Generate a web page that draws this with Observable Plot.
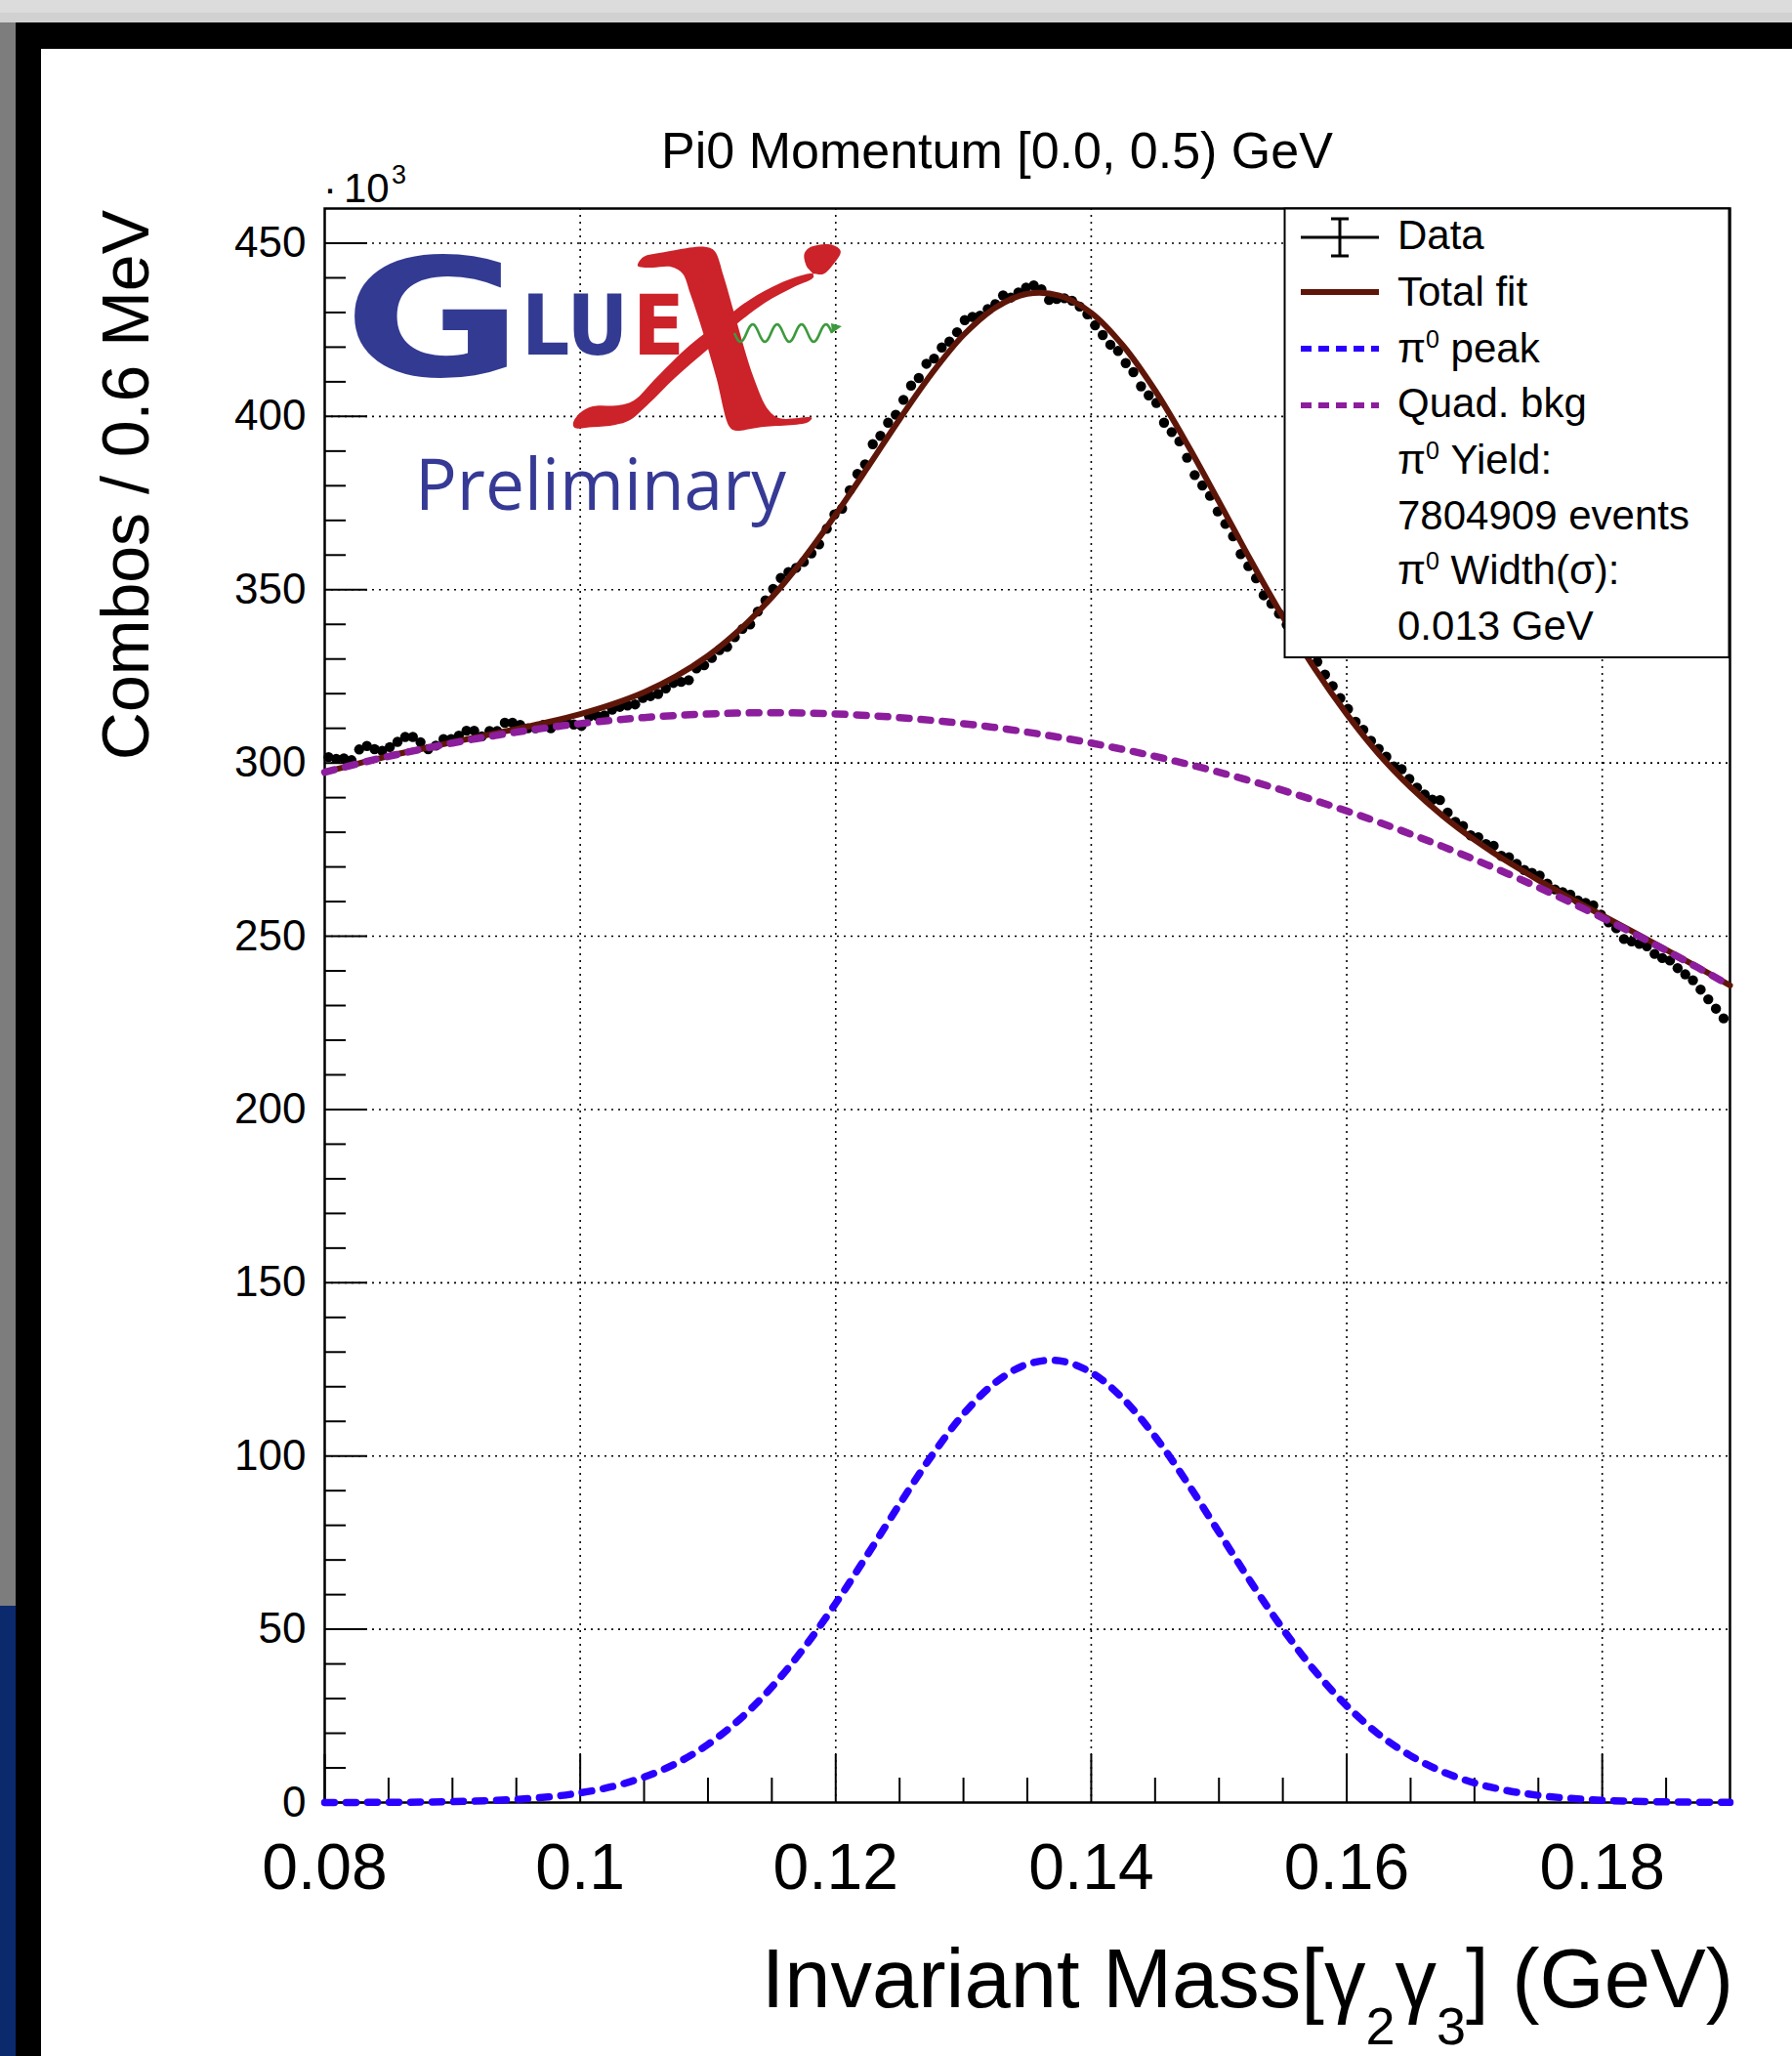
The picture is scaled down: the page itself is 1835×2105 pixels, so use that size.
<!DOCTYPE html>
<html><head><meta charset="utf-8">
<script src="https://cdn.jsdelivr.net/npm/d3@7"></script>
<script src="https://cdn.jsdelivr.net/npm/@observablehq/plot@0.6"></script>
<style>
body{margin:0;width:1835px;height:2105px;position:relative;overflow:hidden;background:#d9d9d9;}
.bg{position:absolute;}
#chart{position:absolute;left:0;top:0;width:1835px;height:2105px;}
</style></head>
<body>
<div class="bg" style="left:0;top:0;width:1835px;height:13px;background:#dcdcdc"></div>
<div class="bg" style="left:0;top:13px;width:1835px;height:10px;background:#d1d1d1"></div>
<div class="bg" style="left:0;top:23px;width:16px;height:1621px;background:#7d7d7d"></div>
<div class="bg" style="left:0;top:1644px;width:16px;height:461px;background:#0b2a6e"></div>
<div class="bg" style="left:16px;top:23px;width:1819px;height:2082px;background:#000"></div>
<div class="bg" style="left:42px;top:50px;width:1793px;height:2055px;background:#fff"></div>
<div id="chart"></div>
<script>
// ---------------- data (counts in units of 10^3 per 0.6 MeV bin) ----------------
const binStart = 0.08;
const binWidth = 0.0006;
const counts = [
301.7,301.2,301.3,300.8,303.9,304.9,304.0,303.5,304.6,306.1,
307.5,307.5,306.0,304.0,305.0,306.9,306.9,307.9,309.3,309.3,
307.7,309.2,309.2,311.6,311.6,311.0,310.0,310.0,311.0,310.0,
311.0,312.1,311.1,310.7,313.4,313.6,313.7,315.4,316.2,316.6,
316.9,318.8,319.3,319.9,321.5,323.1,323.4,323.9,327.3,328.2,
330.3,332.6,333.5,336.3,338.7,340.0,343.7,346.9,350.2,353.4,
355.1,356.3,358.0,360.5,363.1,367.6,371.7,373.4,378.7,383.4,
386.2,392.0,394.4,398.2,400.5,404.8,408.9,411.1,415.2,416.7,
419.9,421.6,424.3,427.8,428.7,429.1,431.0,432.4,434.9,434.3,
435.8,437.2,437.8,436.7,433.6,433.9,434.1,433.4,431.7,429.5,
426.3,423.5,420.7,418.9,415.4,412.8,408.7,406.1,403.9,398.2,
395.5,392.8,388.1,383.1,380.1,377.1,372.6,369.0,365.4,360.3,
356.8,353.3,348.4,346.0,343.1,339.9,337.8,334.7,331.6,329.2,
325.5,322.2,318.7,315.6,311.9,309.6,306.4,304.1,301.8,299.0,
298.2,295.4,292.9,290.9,289.4,289.3,285.7,283.0,281.8,279.1,
278.6,276.6,276.1,273.2,272.8,270.9,269.1,268.3,267.5,265.2,
263.5,262.7,262.0,260.3,259.6,258.9,256.2,254.0,252.3,249.2,
248.5,247.8,247.1,244.9,243.7,243.0,240.8,239.0,237.3,234.6,
231.8,229.1,226.3];

// fit curves read at 2.5 MeV steps
const fitX = [0.08,0.0825,0.085,0.0875,0.09,0.0925,0.095,0.0975,0.1,0.1025,0.105,0.1075,0.11,0.1125,0.115,0.1175,0.12,0.1225,0.125,0.1275,0.13,0.1325,0.135,0.1375,0.14,0.1425,0.145,0.1475,0.15,0.1525,0.155,0.1575,0.16,0.1625,0.165,0.1675,0.17,0.1725,0.175,0.1775,0.18,0.1825,0.185,0.1875,0.19];
const totalFit = [297.4,299.7,302.0,304.0,306.0,307.9,309.8,311.8,314.1,316.9,320.4,325.0,330.9,338.5,347.8,359.0,371.7,385.3,399.2,412.3,423.5,431.4,435.4,434.9,429.9,420.4,407.5,392.1,375.4,358.4,342.2,327.2,314.1,302.6,293.0,284.8,277.8,271.7,266.2,261.0,256.0,251.1,246.1,241.0,235.8];
const peakFit = [0.01,0.03,0.07,0.13,0.26,0.50,0.91,1.62,2.78,4.59,7.33,11.28,16.77,24.06,33.33,44.55,57.5,71.6,86.1,100.0,112.1,121.2,126.5,127.5,124.1,116.5,105.6,92.4,78.0,63.6,50.1,38.0,27.9,19.7,13.5,8.9,5.67,3.49,2.07,1.18,0.65,0.35,0.18,0.09,0.04];
const bkgFit = [297.35,299.71,301.9,303.91,305.75,307.41,308.9,310.21,311.35,312.31,313.1,313.71,314.15,314.41,314.5,314.41,314.15,313.71,313.1,312.31,311.35,310.21,308.9,307.41,305.75,303.91,301.9,299.71,297.35,294.81,292.1,289.21,286.15,282.91,279.5,275.91,272.15,268.21,264.1,259.81,255.35,250.71,245.9,240.91,235.75];

const xTickValues = [0.08,0.1,0.12,0.14,0.16,0.18];
const xTickLabels = ["0.08","0.1","0.12","0.14","0.16","0.18"];
const xMinorTicks = [0.085,0.09,0.095,0.105,0.11,0.115,0.125,0.13,0.135,0.145,0.15,0.155,0.165,0.17,0.175,0.185];
const yTickValues = [0,50,100,150,200,250,300,350,400,450];
const yTickLabels = ["0","50","100","150","200","250","300","350","400","450"];
const yMinorTicks = [10,20,30,40,60,70,80,90,110,120,130,140,160,170,180,190,210,220,230,240,260,270,280,290,310,320,330,340,360,370,380,390,410,420,430,440];

const legendLabels = ["Data","Total fit","π0 peak","Quad. bkg","π0 Yield:","7804909 events","π0 Width(σ):","0.013 GeV"];

// ---------------- styling ----------------
const font = "'Liberation Sans', Arial, Helvetica, sans-serif";
const brown = "#5e1609", purple = "#8c1d9c", blue = "#2a00ff";

const dataRows = counts.map((c, i) => ({x: binStart + binWidth * (i + 0.5), y: c}));
const fitRows = fitX.map((x, i) => ({x, total: totalFit[i], peak: peakFit[i], bkg: bkgFit[i]}));

const mL = 332, mR = 64, mT = 213, mB = 260, W = 1835, H = 2105;
const frameW = W - mL - mR, frameH = H - mT - mB;

const chart = Plot.plot({
  width: W, height: H,
  marginLeft: mL, marginRight: mR, marginTop: mT, marginBottom: mB,
  x: {domain: [0.08, 0.19], axis: null},
  y: {domain: [0, 460], axis: null},
  style: {background: "transparent", fontFamily: font, overflow: "visible"},
  marks: [
    Plot.ruleX(xTickValues.slice(1), {x: d => d, stroke: "#000", strokeWidth: 1.6, strokeDasharray: "2,5"}),
    Plot.ruleY(yTickValues.slice(1), {y: d => d, stroke: "#000", strokeWidth: 1.6, strokeDasharray: "2,5"}),
    Plot.tickX(xMinorTicks, {x: d => d, insetTop: frameH - 25, stroke: "#000", strokeWidth: 2}),
    Plot.tickX(xTickValues, {x: d => d, insetTop: frameH - 49, stroke: "#000", strokeWidth: 2}),
    Plot.tickY(yMinorTicks, {y: d => d, insetRight: frameW - 22, stroke: "#000", strokeWidth: 2}),
    Plot.tickY(yTickValues, {y: d => d, insetRight: frameW - 44, stroke: "#000", strokeWidth: 2}),
    Plot.frame({stroke: "#000", strokeWidth: 2.5}),
    Plot.dot(dataRows, {x: "x", y: "y", r: 5.2, fill: "#000"}),
    Plot.line(fitRows, {x: "x", y: "total", stroke: brown, strokeWidth: 6, curve: "catmull-rom"}),
    Plot.line(fitRows, {x: "x", y: "bkg", stroke: purple, strokeWidth: 7.5, strokeDasharray: "10,12", curve: "catmull-rom"}),
    Plot.line(fitRows, {x: "x", y: "peak", stroke: blue, strokeWidth: 7.5, strokeDasharray: "10,12", curve: "catmull-rom"}),
    Plot.text(xTickValues, {x: d => d, text: (d, i) => xTickLabels[i], frameAnchor: "bottom", dy: 88, lineAnchor: "bottom", fontSize: 66, fill: "#000"}),
    Plot.text(yTickValues, {y: d => d, text: (d, i) => yTickLabels[i], frameAnchor: "left", dx: -19, textAnchor: "end", fontSize: 44, fill: "#000"})
  ]
});
document.getElementById("chart").appendChild(chart);

const svg = d3.select(chart);
const g = svg.append("g").attr("font-family", font).attr("fill", "#000").attr("text-anchor", "start");

// Title
g.append("text").attr("x", 1021).attr("y", 172).attr("text-anchor", "middle")
  .attr("font-size", 52).text("Pi0 Momentum [0.0, 0.5) GeV");

// exponent label
const ex = g.append("text").attr("x", 331).attr("y", 207).attr("font-size", 42);
ex.append("tspan").text("·");
ex.append("tspan").attr("x", 352).text("10");
ex.append("tspan").attr("x", 401).attr("dy", -19).attr("font-size", 27).text("3");

// Y title
g.append("text").attr("transform", "translate(152,215) rotate(-90)")
  .attr("text-anchor", "end").attr("font-size", 68).text("Combos / 0.6 MeV");

// X title with subscripts
const xt = g.append("text").attr("x", 1775).attr("y", 2055).attr("text-anchor", "end").attr("font-size", 85);
xt.append("tspan").text("Invariant Mass[γ");
xt.append("tspan").attr("font-size", 54).attr("dy", 38).text("2");
xt.append("tspan").attr("dy", -38).text("γ");
xt.append("tspan").attr("font-size", 54).attr("dy", 38).text("3");
xt.append("tspan").attr("dy", -38).text("] (GeV)");

// ---------------- GlueX logo ----------------
const logo = svg.append("g").attr("text-anchor", "start");
const lblue = "#333a92", lred = "#cc2229";
logo.append("text").attr("transform", "translate(352,385) scale(1.33,1)")
  .attr("font-family", "'DejaVu Sans', sans-serif").attr("font-weight", "bold")
  .attr("font-size", 168).attr("fill", lblue).text("G");
logo.append("text").attr("transform", "translate(534,363) scale(0.9,1)")
  .attr("font-family", "'DejaVu Sans', sans-serif").attr("font-weight", "bold")
  .attr("font-size", 86).attr("fill", lblue).text("LU");
logo.append("text").attr("transform", "translate(648,363) scale(0.9,1)")
  .attr("font-family", "'DejaVu Sans', sans-serif").attr("font-weight", "bold")
  .attr("font-size", 86).attr("fill", lred).text("E");
const closed = d3.line().curve(d3.curveCatmullRomClosed.alpha(0.5));
const thick = [[652.9,271.7],[658.6,263.3],[679.7,258.3],[721.9,252.7],[731.5,256.7],[741.1,283.3],[752.6,323.3],[771.8,386.7],[787.1,420],[798.7,428.3],[831.3,427.7],[827.4,432.3],[779.5,437.3],[752.6,440.7],[746.9,436.7],[733.5,386.7],[721.9,346.7],[706.6,300],[698.9,280],[687.4,273.3],[668.2,274],[654.8,273.3]];
const thin = [[829.4,253.3],[852.4,250.7],[860.8,257.3],[852.4,271.7],[842.8,280.7],[829.4,280],[798.7,290],[768,306.7],[741.1,326.7],[706.6,353.3],[672.1,386.7],[649.1,410],[633.7,415],[606.9,416],[593.4,423.3],[586.9,433.3],[588.5,438],[606.9,437.3],[629.9,435],[645.2,430],[664.4,413.3],[691.3,386.7],[725.8,356.7],[752.6,333.3],[783.3,310],[814,293.3],[833.2,283.3],[825.5,271.7],[823.6,260]];
logo.append("path").attr("d", closed(thick)).attr("fill", lred);
logo.append("path").attr("d", closed(thin)).attr("fill", lred);
// wavy photon
const wave = d3.range(0, 101, 1).map(t => [752 + t, 341 + 9 * Math.sin(t / 25 * 2 * Math.PI)]);
logo.append("path").attr("d", d3.line()(wave)).attr("fill", "none").attr("stroke", "#3d9a3d").attr("stroke-width", 2.6);
logo.append("path").attr("d", "M852,341 L862,334 L851,331 Z").attr("fill", "#3d9a3d");
logo.append("text").attr("x", 425).attr("y", 522).attr("font-family", "'Open Sans', 'Noto Sans', sans-serif")
  .attr("font-size", 74).attr("fill", "#363a95").attr("textLength", 380).attr("lengthAdjust", "spacingAndGlyphs")
  .text("Preliminary");

// ---------------- legend ----------------
const lg = svg.append("g").attr("font-family", font).attr("text-anchor", "start");
lg.append("rect").attr("x", 1315.5).attr("y", 213.5).attr("width", 455).attr("height", 459.5)
  .attr("fill", "#fff").attr("stroke", "#000").attr("stroke-width", 2);
const base = [255, 313, 371, 427, 485, 542, 598, 655];
function addLabel(y, label) {
  const t = lg.append("text").attr("x", 1431).attr("y", y).attr("font-size", 42).attr("fill", "#000");
  if (label.startsWith("π0")) {
    t.append("tspan").text("π");
    t.append("tspan").attr("font-size", 25).attr("dy", -15).text("0");
    t.append("tspan").attr("dy", 15).text(label.slice(2));
  } else t.text(label);
}
legendLabels.forEach((l, i) => addLabel(base[i], l));
// symbols
lg.append("line").attr("x1", 1332).attr("x2", 1412).attr("y1", 243).attr("y2", 243).attr("stroke", "#000").attr("stroke-width", 3);
lg.append("line").attr("x1", 1372).attr("x2", 1372).attr("y1", 224).attr("y2", 262).attr("stroke", "#000").attr("stroke-width", 3);
lg.append("line").attr("x1", 1363).attr("x2", 1381).attr("y1", 224).attr("y2", 224).attr("stroke", "#000").attr("stroke-width", 3);
lg.append("line").attr("x1", 1363).attr("x2", 1381).attr("y1", 262).attr("y2", 262).attr("stroke", "#000").attr("stroke-width", 3);
lg.append("line").attr("x1", 1332).attr("x2", 1412).attr("y1", 299).attr("y2", 299).attr("stroke", brown).attr("stroke-width", 6);
lg.append("line").attr("x1", 1332).attr("x2", 1412).attr("y1", 357).attr("y2", 357).attr("stroke", blue).attr("stroke-width", 6).attr("stroke-dasharray", "11,7");
lg.append("line").attr("x1", 1332).attr("x2", 1412).attr("y1", 415).attr("y2", 415).attr("stroke", purple).attr("stroke-width", 6).attr("stroke-dasharray", "11,7");
</script>
</body></html>
